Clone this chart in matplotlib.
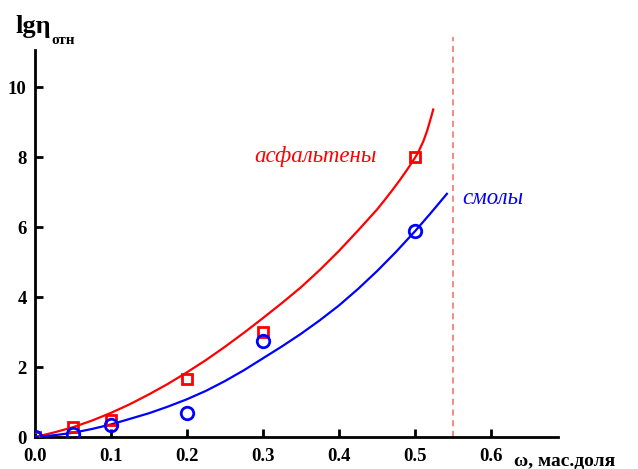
import matplotlib
matplotlib.use("Agg")
import matplotlib.pyplot as plt

# measured points
asph_x = [0.0, 0.05, 0.1, 0.2, 0.3, 0.5]
asph_y = [0.0, 0.3, 0.5, 1.65, 3.0, 8.0]
resin_x = [0.0, 0.05, 0.1, 0.2, 0.3, 0.5]
resin_y = [0.0, 0.1, 0.35, 0.7, 2.75, 5.9]

# fitted curves
asph_cx = [0.0, 0.025, 0.05, 0.075, 0.1, 0.125, 0.15, 0.175, 0.2, 0.225, 0.25,
           0.275, 0.3, 0.325, 0.35, 0.375, 0.4, 0.425, 0.45, 0.46, 0.47, 0.48,
           0.49, 0.5, 0.505, 0.511, 0.516, 0.522, 0.524]
asph_cy = [0.0, 0.13, 0.28, 0.47, 0.69, 0.94, 1.22, 1.52, 1.85, 2.2, 2.58,
           2.98, 3.4, 3.83, 4.28, 4.78, 5.32, 5.9, 6.5, 6.77, 7.05, 7.34,
           7.65, 7.98, 8.17, 8.45, 8.75, 9.2, 9.36]
resin_cx = [0.0, 0.025, 0.05, 0.075, 0.1, 0.125, 0.15, 0.175, 0.2, 0.225, 0.25,
            0.275, 0.3, 0.325, 0.35, 0.375, 0.4, 0.425, 0.45, 0.475, 0.5, 0.52, 0.542]
resin_cy = [0.0, 0.05, 0.12, 0.23, 0.36, 0.52, 0.68, 0.87, 1.08, 1.32, 1.6,
            1.91, 2.25, 2.59, 2.95, 3.34, 3.76, 4.23, 4.74, 5.29, 5.88, 6.38, 6.95]

limit_x = 0.55
xticks = [0.0, 0.1, 0.2, 0.3, 0.4, 0.5, 0.6]
xticklabels = ["0.0", "0.1", "0.2", "0.3", "0.4", "0.5", "0.6"]
yticks = [0, 2, 4, 6, 8, 10]
yticklabels = ["0", "2", "4", "6", "8", "10"]

serif = "Liberation Serif"
fig = plt.figure(figsize=(6.38, 4.69), dpi=100)
ax = fig.add_axes([0.0549, 0.0682, 0.8197, 0.8252])

ax.plot(asph_cx, asph_cy, color="#ff0000", lw=1.6, zorder=3, solid_joinstyle="round")
ax.plot(resin_cx, resin_cy, color="#0000ff", lw=1.6, zorder=3, solid_joinstyle="round")
ax.plot(asph_x, asph_y, linestyle="none", marker="s", markersize=7.5,
        markerfacecolor="none", markeredgecolor="#ff0000", markeredgewidth=2, zorder=4)
ax.plot(resin_x, resin_y, linestyle="none", marker="o", markersize=9,
        markerfacecolor="none", markeredgecolor="#0000ff", markeredgewidth=2, zorder=4)
ax.plot([limit_x, limit_x], [0, 11.43], color="#f26a6a", lw=1.1,
        linestyle=(0, (4, 3)), clip_on=False, zorder=2)

ax.set_xlim(0, 0.6882)
ax.set_ylim(0, 11.06)
ax.spines["top"].set_visible(False)
ax.spines["right"].set_visible(False)
for s in ("left", "bottom"):
    ax.spines[s].set_linewidth(2)
ax.set_xticks(xticks)
ax.set_xticklabels(xticklabels)
ax.set_yticks(yticks)
ax.set_yticklabels(yticklabels)
ax.tick_params(direction="in", length=6, width=2)
ax.tick_params(axis="x", pad=8)
ax.tick_params(axis="y", pad=6)
for lab in ax.get_xticklabels() + ax.get_yticklabels():
    lab.set_fontfamily(serif)
    lab.set_fontweight("bold")
    lab.set_fontsize(13.5)

fig.text(15 / 638, 1 - 33 / 469, r"lgη", fontfamily=serif, fontweight="bold",
         fontsize=19, ha="left", va="baseline")
fig.text(51 / 638, 1 - 44 / 469, "отн", fontfamily=serif, fontweight="bold",
         fontsize=11, ha="left", va="baseline")
fig.text(514 / 638, 1 - 465 / 469, "ω, мас.доля", fontfamily=serif, fontweight="bold",
         fontsize=14, ha="left", va="baseline")

ax.text(0.289, 7.85, "асфальтены", color="#ff0000", fontfamily=serif,
        fontstyle="italic", fontsize=16.5, ha="left", va="baseline")
ax.text(0.562, 6.65, "смолы", color="#0000ff", fontfamily=serif,
        fontstyle="italic", fontsize=16.5, ha="left", va="baseline")

fig.savefig("out.png", dpi=100)
